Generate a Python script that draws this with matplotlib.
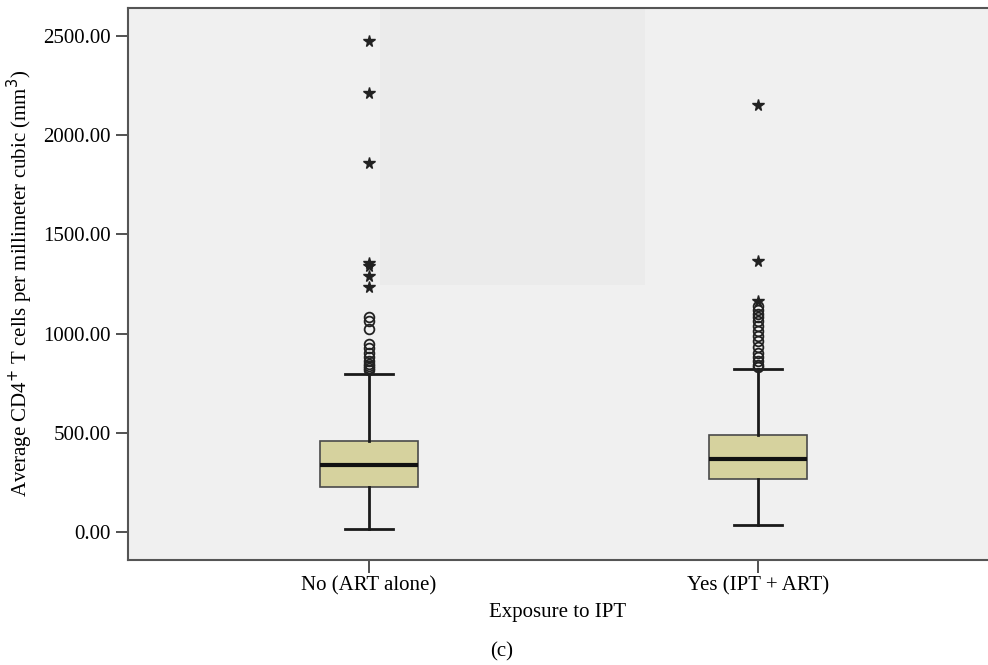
import matplotlib
matplotlib.use("Agg")
import matplotlib.pyplot as plt
from matplotlib.patches import Rectangle

# box statistics
groups = ["No (ART alone)", "Yes (IPT + ART)"]
q1 = [229, 268]
med = [337, 368]
q3 = [456, 489]
whislo = [15, 35]
whishi = [796, 822]

# outliers (circles) and extremes (stars)
circles_no = [1085, 1065, 1025, 948, 925, 900, 880, 862, 848, 836, 826, 818]
stars_no = [2475, 2210, 1860, 1355, 1342, 1290, 1235]
circles_yes = [1140, 1120, 1100, 1082, 1062, 1040, 1012, 990, 962, 932, 902, 880, 860, 842, 830]
stars_yes = [2150, 1366, 1165]

plt.rcParams["font.family"] = ["Liberation Serif", "DejaVu Serif"]

fig = plt.figure(figsize=(9.88, 6.65), dpi=100)
ax = fig.add_axes([0.1296, 0.158, 0.8704, 0.83])
ax.set_facecolor("#F0F0F0")

# faint darker patch seen in the source image
ax.add_patch(Rectangle((0.293, 0.498), 0.308, 0.502, transform=ax.transAxes,
                       facecolor="#EBEBEB", edgecolor="none", zorder=0))

stats = []
for i in range(2):
    stats.append({"q1": q1[i], "med": med[i], "q3": q3[i],
                  "whislo": whislo[i], "whishi": whishi[i], "fliers": []})

ax.bxp(stats, positions=[1, 2], widths=0.25, patch_artist=True, showfliers=False,
       boxprops=dict(facecolor="#D6D29E", edgecolor="#4a4a4a", linewidth=1.2),
       medianprops=dict(color="#111111", linewidth=3),
       whiskerprops=dict(color="#1a1a1a", linewidth=2),
       capprops=dict(color="#1a1a1a", linewidth=2), capwidths=0.125)

for pos, circ, star in [(1, circles_no, stars_no), (2, circles_yes, stars_yes)]:
    ax.plot([pos] * len(circ), circ, "o", mfc="none", mec="#222222", mew=1.3,
            ms=7, ls="none", zorder=3)
    ax.plot([pos] * len(star), star, "*", color="#222222", ms=8.5, ls="none", zorder=3)

ax.set_xlim(0.3805, 2.591)
ax.set_ylim(-141, 2641)
ax.set_yticks([0, 500, 1000, 1500, 2000, 2500])
ax.set_yticklabels(["0.00", "500.00", "1000.00", "1500.00", "2000.00", "2500.00"])
ax.set_xticks([1, 2])
ax.set_xticklabels(groups)
ax.tick_params(labelsize=15, color="#333333", length=9, width=1.2)
ax.tick_params(axis="x", pad=3)

for s in ["left", "bottom", "top"]:
    ax.spines[s].set_color("#555555")
    ax.spines[s].set_linewidth(1.5)
ax.spines["right"].set_visible(False)

ax.set_ylabel("Average CD4$^{+}$ T cells per millimeter cubic (mm$^{3}$)",
              fontsize=15, labelpad=6)
ax.set_xlabel("Exposure to IPT", fontsize=15, labelpad=5)
fig.text(0.508, 0.005, "(c)", fontsize=15, ha="center", va="bottom")

fig.savefig("out.png", dpi=100)
